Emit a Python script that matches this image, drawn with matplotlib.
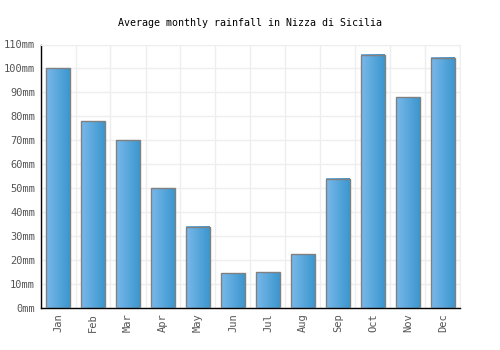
import numpy as np
import matplotlib
matplotlib.use("Agg")
import matplotlib.pyplot as plt
from matplotlib.colors import LinearSegmentedColormap

months = ["Jan", "Feb", "Mar", "Apr", "May", "Jun", "Jul", "Aug", "Sep", "Oct", "Nov", "Dec"]
rainfall = [100, 78, 70, 50, 34, 14.5, 15, 22.5, 54, 105.7, 88, 104.5]
yticks = list(range(0, 111, 10))
ytick_labels = [f"{v}mm" for v in yticks]
title = "Average monthly rainfall in Nizza di Sicilia"

plt.rcParams['font.family'] = ['DejaVu Sans Mono']

fig = plt.figure(figsize=(5, 3.5), dpi=100)
ax = fig.add_axes([40.5/500, 1-308/350, 420/500, (308-44.5)/350])

x = np.arange(len(months))
width = 0.67
cmap = LinearSegmentedColormap.from_list("g", ["#7ab8ea", "#3b97cf"])
grad = np.linspace(0, 1, 64).reshape(1, -1)

bars = ax.bar(x, rainfall, width=width, facecolor="none", edgecolor="#808080", linewidth=1, zorder=3)
for b in bars:
    x0, w, h = b.get_x(), b.get_width(), b.get_height()
    ax.imshow(grad, cmap=cmap, extent=[x0, x0 + w, 0, h], aspect="auto", zorder=2, interpolation="bilinear")

ax.set_xlim(-0.5, len(months) - 0.5)
ax.set_ylim(0, 110)
ax.set_yticks(yticks)
ax.set_yticklabels(ytick_labels)
ax.set_xticks(x)
ax.set_xticklabels(months, rotation=90)
ax.tick_params(axis="both", length=0, colors="#555555", labelsize=7.5, pad=4)

ax.set_xticks(np.arange(-0.5, len(months) + 0.5, 1), minor=True)
ax.grid(True, which="minor", axis="x", color="#eeeeee", linewidth=1, zorder=0)
ax.grid(True, which="major", axis="y", color="#eeeeee", linewidth=1, zorder=0)
ax.tick_params(which="minor", length=0)

ax.spines["top"].set_color("#eeeeee")
ax.spines["right"].set_color("#eeeeee")
ax.spines["left"].set_color("black")
ax.spines["bottom"].set_color("black")
ax.spines["left"].set_linewidth(1)
ax.spines["bottom"].set_linewidth(1)
ax.set_axisbelow(True)

fig.text(0.5, 1 - 23/350, title, ha="center", va="center", fontsize=7.2, color="black")

fig.savefig("out.png", dpi=100)
